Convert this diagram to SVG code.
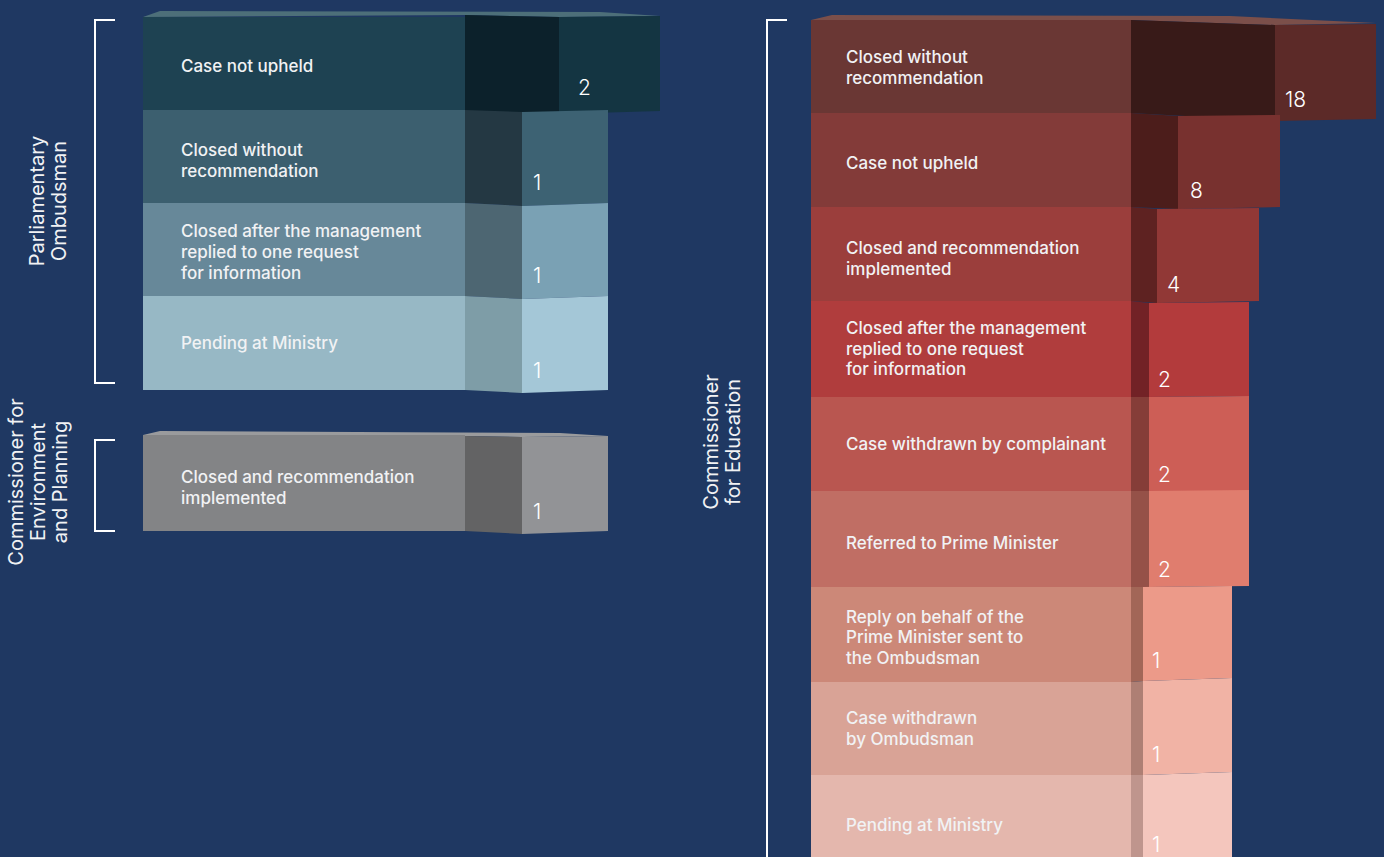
<svg xmlns="http://www.w3.org/2000/svg" width="1384" height="857" viewBox="0 0 1384 857">
<style>
.lbl{font-family:Inter,"Open Sans","Liberation Sans",sans-serif;font-size:17px;font-weight:500;fill:#f1f2f4;}
.num{font-family:Inter,"Open Sans","Liberation Sans",sans-serif;font-size:21px;font-weight:300;fill:#ffffff;}
.grp{font-family:Inter,"Open Sans","Liberation Sans",sans-serif;font-size:20px;fill:#f1f2f4;text-anchor:middle;}
.br{fill:none;stroke:#ffffff;stroke-width:2;}
</style>
<rect width="1384" height="857" fill="#1f3862"/>

<g id="brackets">
<polyline class="br" points="115,20 95,20 95,383 115,383"/>
<polyline class="br" points="115,440 95,440 95,531 115,531"/>
<polyline class="br" points="787,20 767,20 767,857"/>
</g>

<g id="group-labels">
<text class="grp" transform="translate(44,201) rotate(-90)">Parliamentary</text>
<text class="grp" transform="translate(66,201) rotate(-90)">Ombudsman</text>
<text class="grp" transform="translate(23,482) rotate(-90)">Commissioner for</text>
<text class="grp" transform="translate(45,482) rotate(-90)">Environment</text>
<text class="grp" transform="translate(67,482) rotate(-90)">and Planning</text>
<text class="grp" transform="translate(718,442) rotate(-90)">Commissioner</text>
<text class="grp" transform="translate(740,442) rotate(-90)">for Education</text>
</g>

<!-- Parliamentary Ombudsman -->
<g id="po-row1">
<polygon points="143,17 160,11 600,12 660,16 559,17 465,15" fill="#4d6f79"/>
<rect x="143" y="17" width="322" height="93" fill="#1e4252"/>
<polygon points="465,15 559,17 559,114 465,111" fill="#0c212b"/>
<polygon points="559,17 660,16 660,111 559,114" fill="#143542"/>
<text class="lbl" x="181" y="72">Case not upheld</text>
<text class="num" x="578" y="95">2</text>
</g>
<g id="po-row2">
<rect x="143" y="110" width="322" height="93" fill="#3c5f6f"/>
<polygon points="465,110 522,112 522,206 465,203" fill="#243843"/>
<polygon points="522,112 608,110 608,203 522,206" fill="#3d6273"/>
<text class="lbl" x="181" y="156">Closed without</text>
<text class="lbl" x="181" y="177">recommendation</text>
<text class="num" x="533" y="190">1</text>
</g>
<g id="po-row3">
<rect x="143" y="203" width="322" height="93" fill="#678899"/>
<polygon points="465,203 522,206 522,299 465,296" fill="#4d6672"/>
<polygon points="522,206 608,203 608,296 522,299" fill="#7aa1b4"/>
<text class="lbl" x="181" y="237">Closed after the management</text>
<text class="lbl" x="181" y="258">replied to one request</text>
<text class="lbl" x="181" y="279">for information</text>
<text class="num" x="533" y="283">1</text>
</g>
<g id="po-row4">
<rect x="143" y="296" width="322" height="94" fill="#97b8c5"/>
<polygon points="465,296 522,299 522,393 465,390" fill="#7e9da7"/>
<polygon points="522,299 608,296 608,390 522,393" fill="#a4c7d7"/>
<text class="lbl" x="181" y="349">Pending at Ministry</text>
<text class="num" x="533" y="378">1</text>
</g>

<!-- Commissioner for Environment and Planning -->
<g id="cep-row1">
<polygon points="143,435 160,431 560,433 608,436 522,437 465,436" fill="#9a9b9d"/>
<rect x="143" y="435" width="322" height="96" fill="#838486"/>
<polygon points="465,436 522,437 522,534 465,531" fill="#636364"/>
<polygon points="522,437 608,436 608,531 522,534" fill="#929396"/>
<text class="lbl" x="181" y="483">Closed and recommendation</text>
<text class="lbl" x="181" y="504">implemented</text>
<text class="num" x="533" y="519">1</text>
</g>

<!-- Commissioner for Education -->
<g id="ce-row1">
<polygon points="811,20 832,15 1230,16 1376,23 1275,25 1131,20" fill="#7b4f4a"/>
<rect x="811" y="20" width="320" height="93" fill="#6a3734"/>
<polygon points="1131,20 1275,25 1275,121 1131,113" fill="#381a18"/>
<polygon points="1275,25 1376,24 1376,119 1275,121" fill="#5c2a28"/>
<text class="lbl" x="846" y="63">Closed without</text>
<text class="lbl" x="846" y="84">recommendation</text>
<text class="num" x="1285" y="107">18</text>
</g>
<g id="ce-row2">
<rect x="811" y="113" width="320" height="94" fill="#833b39"/>
<polygon points="1131,113 1178,116 1178,209 1131,207" fill="#4c1d1b"/>
<polygon points="1178,116 1280,115 1280,207 1178,209" fill="#78312f"/>
<text class="lbl" x="846" y="169">Case not upheld</text>
<text class="num" x="1190" y="198">8</text>
</g>
<g id="ce-row3">
<rect x="811" y="207" width="320" height="94" fill="#9b3e3c"/>
<polygon points="1131,207 1157,209 1157,303 1131,301" fill="#5e2221"/>
<polygon points="1157,209 1259,208 1259,301 1157,303" fill="#913836"/>
<text class="lbl" x="846" y="254">Closed and recommendation</text>
<text class="lbl" x="846" y="275">implemented</text>
<text class="num" x="1167" y="292">4</text>
</g>
<g id="ce-row4">
<rect x="811" y="301" width="320" height="96" fill="#b03d3d"/>
<polygon points="1131,301 1149,303 1149,397 1131,397" fill="#722226"/>
<polygon points="1149,303 1249,302 1249,396 1149,397" fill="#b33b3c"/>
<text class="lbl" x="846" y="334">Closed after the management</text>
<text class="lbl" x="846" y="355">replied to one request</text>
<text class="lbl" x="846" y="375">for information</text>
<text class="num" x="1158" y="387">2</text>
</g>
<g id="ce-row5">
<rect x="811" y="397" width="320" height="94" fill="#b95650"/>
<polygon points="1131,397 1149,397 1149,491 1131,491" fill="#853d38"/>
<polygon points="1149,397 1249,396 1249,491 1149,491" fill="#cd5e56"/>
<text class="lbl" x="846" y="450">Case withdrawn by complainant</text>
<text class="num" x="1158" y="482">2</text>
</g>
<g id="ce-row6">
<rect x="811" y="491" width="320" height="96" fill="#c06e64"/>
<polygon points="1131,491 1149,491 1149,587 1131,587" fill="#955148"/>
<polygon points="1149,491 1249,490 1249,586 1149,587" fill="#e07d6e"/>
<text class="lbl" x="846" y="549">Referred to Prime Minister</text>
<text class="num" x="1158" y="577">2</text>
</g>
<g id="ce-row7">
<rect x="811" y="587" width="320" height="95" fill="#cc8878"/>
<polygon points="1131,587 1143,587 1143,681 1131,682" fill="#a26657"/>
<polygon points="1143,587 1232,586 1232,678 1143,681" fill="#ec9a89"/>
<text class="lbl" x="846" y="623">Reply on behalf of the</text>
<text class="lbl" x="846" y="643">Prime Minister sent to</text>
<text class="lbl" x="846" y="664">the Ombudsman</text>
<text class="num" x="1152" y="668">1</text>
</g>
<g id="ce-row8">
<rect x="811" y="682" width="320" height="93" fill="#d9a396"/>
<polygon points="1131,682 1143,681 1143,775 1131,775" fill="#ae7f74"/>
<polygon points="1143,681 1232,678 1232,772 1143,775" fill="#f1b3a5"/>
<text class="lbl" x="846" y="724">Case withdrawn</text>
<text class="lbl" x="846" y="745">by Ombudsman</text>
<text class="num" x="1152" y="762">1</text>
</g>
<g id="ce-row9">
<rect x="811" y="775" width="320" height="82" fill="#e4b7ad"/>
<polygon points="1131,775 1143,775 1143,857 1131,857" fill="#bf958d"/>
<polygon points="1143,775 1232,772 1232,857 1143,857" fill="#f4c6bd"/>
<text class="lbl" x="846" y="831">Pending at Ministry</text>
<text class="num" x="1152" y="852">1</text>
</g>
</svg>
